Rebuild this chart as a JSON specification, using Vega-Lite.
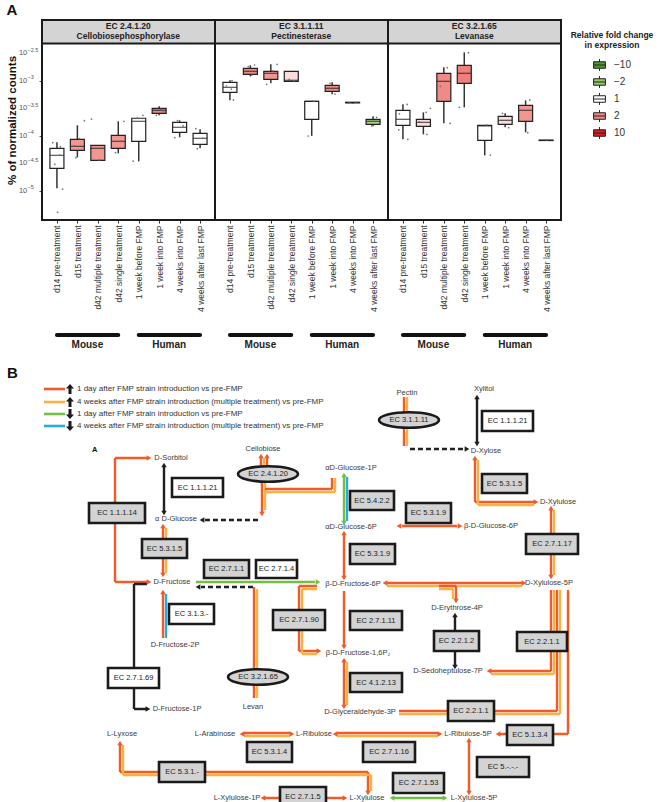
{
"$schema": "https://vega.github.io/schema/vega-lite/v6.json",
"padding": {"left": 6, "top": 3, "right": 0, "bottom": 0},
"background": "white",
"config": {
  "font": "Liberation Sans",
  "view": {"stroke": "#1a1a1a", "strokeWidth": 2},
  "axis": {"labelFont": "Liberation Sans", "titleFont": "Liberation Sans"},
  "legend": {"labelFont": "Liberation Sans", "titleFont": "Liberation Sans"},
  "title": {"font": "Liberation Sans"}
},
"spacing": 10,
"resolve": {
  "scale": {"color": "independent", "fill": "independent", "x": "independent", "y": "independent", "shape": "independent"},
  "legend": {"fill": "independent", "color": "independent", "shape": "independent"}
},
"datasets": {
  "A": [
    {"type": "hdr", "ec": "EC 2.4.1.20", "label": "EC 2.4.1.20\nCellobiosephosphorylase"},
    {"type": "hdr", "ec": "EC 3.1.1.11", "label": "EC 3.1.1.11\nPectinesterase"},
    {"type": "hdr", "ec": "EC 3.2.1.65", "label": "EC 3.2.1.65\nLevanase"},
    {"type": "ylab", "ec": "EC 2.4.1.20", "v": -5, "base": "10", "exp": "−5"},
    {"type": "ylab", "ec": "EC 2.4.1.20", "v": -4.5, "base": "10", "exp": "−4.5"},
    {"type": "ylab", "ec": "EC 2.4.1.20", "v": -4, "base": "10", "exp": "−4"},
    {"type": "ylab", "ec": "EC 2.4.1.20", "v": -3.5, "base": "10", "exp": "−3.5"},
    {"type": "ylab", "ec": "EC 2.4.1.20", "v": -3, "base": "10", "exp": "−3"},
    {"type": "ylab", "ec": "EC 2.4.1.20", "v": -2.5, "base": "10", "exp": "−2.5"},
    {"type": "grp", "ec": "EC 2.4.1.20", "c1": "d14 pre-treatment", "c2": "d42 single treatment", "cm": "d15 treatment", "label": "Mouse"},
    {"type": "grp", "ec": "EC 2.4.1.20", "c1": "1 week before FMP", "c2": "4 weeks after last FMP", "cm": "1 week into FMP", "label": "Human"},
    {"type": "grp", "ec": "EC 3.1.1.11", "c1": "d14 pre-treatment", "c2": "d42 single treatment", "cm": "d15 treatment", "label": "Mouse"},
    {"type": "grp", "ec": "EC 3.1.1.11", "c1": "1 week before FMP", "c2": "4 weeks after last FMP", "cm": "1 week into FMP", "label": "Human"},
    {"type": "grp", "ec": "EC 3.2.1.65", "c1": "d14 pre-treatment", "c2": "d42 single treatment", "cm": "d15 treatment", "label": "Mouse"},
    {"type": "grp", "ec": "EC 3.2.1.65", "c1": "1 week before FMP", "c2": "4 weeks after last FMP", "cm": "1 week into FMP", "label": "Human"},

    {"type": "box", "ec": "EC 2.4.1.20", "cat": "d14 pre-treatment", "lo": -4.955, "q1": -4.591, "md": -4.355, "q3": -4.227, "hi": -4.118, "fold": 1},
    {"type": "box", "ec": "EC 2.4.1.20", "cat": "d15 treatment", "lo": -4.391, "q1": -4.264, "md": -4.191, "q3": -4.064, "hi": -3.809, "fold": 1.9},
    {"type": "box", "ec": "EC 2.4.1.20", "cat": "d42 multiple treatment", "lo": -4.445, "q1": -4.445, "md": -4.227, "q3": -4.173, "hi": -4.173, "fold": 1.9},
    {"type": "box", "ec": "EC 2.4.1.20", "cat": "d42 single treatment", "lo": -4.318, "q1": -4.227, "md": -4.1, "q3": -3.99, "hi": -3.736, "fold": 1.9},
    {"type": "box", "ec": "EC 2.4.1.20", "cat": "1 week before FMP", "lo": -4.464, "q1": -4.1, "md": -3.736, "q3": -3.68, "hi": -3.68, "fold": 1},
    {"type": "box", "ec": "EC 2.4.1.20", "cat": "1 week into FMP", "lo": -3.627, "q1": -3.59, "md": -3.536, "q3": -3.5, "hi": -3.464, "fold": 2.4},
    {"type": "box", "ec": "EC 2.4.1.20", "cat": "4 weeks into FMP", "lo": -4.027, "q1": -3.936, "md": -3.845, "q3": -3.755, "hi": -3.718, "fold": 1},
    {"type": "box", "ec": "EC 2.4.1.20", "cat": "4 weeks after last FMP", "lo": -4.227, "q1": -4.155, "md": -4.045, "q3": -3.955, "hi": -3.882, "fold": 1},

    {"type": "box", "ec": "EC 3.1.1.11", "cat": "d14 pre-treatment", "lo": -3.355, "q1": -3.209, "md": -3.118, "q3": -3.027, "hi": -2.99, "fold": 1},
    {"type": "box", "ec": "EC 3.1.1.11", "cat": "d15 treatment", "lo": -2.918, "q1": -2.882, "md": -2.827, "q3": -2.773, "hi": -2.718, "fold": 2.2},
    {"type": "box", "ec": "EC 3.1.1.11", "cat": "d42 multiple treatment", "lo": -3.045, "q1": -2.973, "md": -2.864, "q3": -2.827, "hi": -2.7, "fold": 1.9},
    {"type": "box", "ec": "EC 3.1.1.11", "cat": "d42 single treatment", "lo": -3.009, "q1": -3.009, "md": -2.99, "q3": -2.827, "hi": -2.827, "fold": 1.3},
    {"type": "box", "ec": "EC 3.1.1.11", "cat": "1 week before FMP", "lo": -4.0, "q1": -3.7, "md": -3.373, "q3": -3.373, "hi": -3.373, "fold": 1},
    {"type": "box", "ec": "EC 3.1.1.11", "cat": "1 week into FMP", "lo": -3.245, "q1": -3.19, "md": -3.136, "q3": -3.082, "hi": -3.027, "fold": 2},
    {"type": "box", "ec": "EC 3.1.1.11", "cat": "4 weeks into FMP", "lo": -3.41, "q1": -3.4, "md": -3.395, "q3": -3.39, "hi": -3.385, "fold": 1},
    {"type": "box", "ec": "EC 3.1.1.11", "cat": "4 weeks after last FMP", "lo": -3.827, "q1": -3.79, "md": -3.736, "q3": -3.7, "hi": -3.645, "fold": -1.5},

    {"type": "box", "ec": "EC 3.2.1.65", "cat": "d14 pre-treatment", "lo": -4.064, "q1": -3.809, "md": -3.7, "q3": -3.536, "hi": -3.427, "fold": 1},
    {"type": "box", "ec": "EC 3.2.1.65", "cat": "d15 treatment", "lo": -3.973, "q1": -3.827, "md": -3.755, "q3": -3.7, "hi": -3.573, "fold": 1.3},
    {"type": "box", "ec": "EC 3.2.1.65", "cat": "d42 multiple treatment", "lo": -3.773, "q1": -3.373, "md": -3.009, "q3": -2.864, "hi": -2.755, "fold": 2},
    {"type": "box", "ec": "EC 3.2.1.65", "cat": "d42 single treatment", "lo": -3.482, "q1": -3.045, "md": -2.864, "q3": -2.718, "hi": -2.482, "fold": 2.8},
    {"type": "box", "ec": "EC 3.2.1.65", "cat": "1 week before FMP", "lo": -4.355, "q1": -4.082, "md": -3.82, "q3": -3.809, "hi": -3.809, "fold": 1},
    {"type": "box", "ec": "EC 3.2.1.65", "cat": "1 week into FMP", "lo": -3.845, "q1": -3.79, "md": -3.718, "q3": -3.645, "hi": -3.59, "fold": 1.3},
    {"type": "box", "ec": "EC 3.2.1.65", "cat": "4 weeks into FMP", "lo": -3.936, "q1": -3.736, "md": -3.536, "q3": -3.445, "hi": -3.355, "fold": 1.9},
    {"type": "box", "ec": "EC 3.2.1.65", "cat": "4 weeks after last FMP", "lo": -4.09, "q1": -4.085, "md": -4.082, "q3": -4.078, "hi": -4.075, "fold": 1},

    {"type": "pt", "ec": "EC 2.4.1.20", "cat": "d14 pre-treatment", "v": -4.124, "j": -0.6},
    {"type": "pt", "ec": "EC 2.4.1.20", "cat": "d14 pre-treatment", "v": -4.349, "j": 0.4},
    {"type": "pt", "ec": "EC 2.4.1.20", "cat": "d14 pre-treatment", "v": -4.967, "j": 0.8},
    {"type": "pt", "ec": "EC 2.4.1.20", "cat": "d14 pre-treatment", "v": -5.39, "j": 0.1},
    {"type": "pt", "ec": "EC 2.4.1.20", "cat": "d14 pre-treatment", "v": -4.518, "j": -0.3},
    {"type": "pt", "ec": "EC 2.4.1.20", "cat": "d14 pre-treatment", "v": -4.2, "j": 0.5},
    {"type": "pt", "ec": "EC 2.4.1.20", "cat": "d15 treatment", "v": -4.052, "j": 0.3},
    {"type": "pt", "ec": "EC 2.4.1.20", "cat": "d15 treatment", "v": -4.185, "j": -0.5},
    {"type": "pt", "ec": "EC 2.4.1.20", "cat": "d15 treatment", "v": -4.397, "j": -0.2},
    {"type": "pt", "ec": "EC 2.4.1.20", "cat": "d15 treatment", "v": -3.724, "j": 1.0},
    {"type": "pt", "ec": "EC 2.4.1.20", "cat": "d42 multiple treatment", "v": -3.694, "j": -0.9},
    {"type": "pt", "ec": "EC 2.4.1.20", "cat": "d42 multiple treatment", "v": -4.44, "j": 0.2},
    {"type": "pt", "ec": "EC 2.4.1.20", "cat": "d42 multiple treatment", "v": -4.227, "j": 0.5},
    {"type": "pt", "ec": "EC 2.4.1.20", "cat": "d42 single treatment", "v": -3.736, "j": 0.8},
    {"type": "pt", "ec": "EC 2.4.1.20", "cat": "d42 single treatment", "v": -4.306, "j": -0.4},
    {"type": "pt", "ec": "EC 2.4.1.20", "cat": "d42 single treatment", "v": -4.1, "j": 0.3},
    {"type": "pt", "ec": "EC 2.4.1.20", "cat": "1 week before FMP", "v": -3.627, "j": 0.6},
    {"type": "pt", "ec": "EC 2.4.1.20", "cat": "1 week before FMP", "v": -4.458, "j": -0.8},
    {"type": "pt", "ec": "EC 2.4.1.20", "cat": "1 week before FMP", "v": -3.68, "j": -0.2},
    {"type": "pt", "ec": "EC 2.4.1.20", "cat": "1 week into FMP", "v": -3.52, "j": 0.3},
    {"type": "pt", "ec": "EC 2.4.1.20", "cat": "1 week into FMP", "v": -3.627, "j": -0.4},
    {"type": "pt", "ec": "EC 2.4.1.20", "cat": "1 week into FMP", "v": -3.545, "j": 0.6},
    {"type": "pt", "ec": "EC 2.4.1.20", "cat": "4 weeks into FMP", "v": -3.724, "j": -0.3},
    {"type": "pt", "ec": "EC 2.4.1.20", "cat": "4 weeks into FMP", "v": -4.033, "j": -0.7},
    {"type": "pt", "ec": "EC 2.4.1.20", "cat": "4 weeks into FMP", "v": -3.82, "j": 0.5},
    {"type": "pt", "ec": "EC 2.4.1.20", "cat": "4 weeks after last FMP", "v": -3.87, "j": -0.6},
    {"type": "pt", "ec": "EC 2.4.1.20", "cat": "4 weeks after last FMP", "v": -4.233, "j": -0.4},
    {"type": "pt", "ec": "EC 2.4.1.20", "cat": "4 weeks after last FMP", "v": -4.045, "j": 0.4},

    {"type": "pt", "ec": "EC 3.1.1.11", "cat": "d14 pre-treatment", "v": -2.997, "j": 0.3},
    {"type": "pt", "ec": "EC 3.1.1.11", "cat": "d14 pre-treatment", "v": -3.348, "j": 0.5},
    {"type": "pt", "ec": "EC 3.1.1.11", "cat": "d14 pre-treatment", "v": -3.094, "j": -0.5},
    {"type": "pt", "ec": "EC 3.1.1.11", "cat": "d14 pre-treatment", "v": -3.15, "j": 0.2},
    {"type": "pt", "ec": "EC 3.1.1.11", "cat": "d15 treatment", "v": -2.712, "j": 0.6},
    {"type": "pt", "ec": "EC 3.1.1.11", "cat": "d15 treatment", "v": -2.74, "j": -0.3},
    {"type": "pt", "ec": "EC 3.1.1.11", "cat": "d15 treatment", "v": -2.894, "j": 0.2},
    {"type": "pt", "ec": "EC 3.1.1.11", "cat": "d42 multiple treatment", "v": -2.7, "j": 0.9},
    {"type": "pt", "ec": "EC 3.1.1.11", "cat": "d42 multiple treatment", "v": -3.064, "j": -0.6},
    {"type": "pt", "ec": "EC 3.1.1.11", "cat": "d42 multiple treatment", "v": -2.82, "j": 0.3},
    {"type": "pt", "ec": "EC 3.1.1.11", "cat": "d42 single treatment", "v": -2.973, "j": -0.3},
    {"type": "pt", "ec": "EC 3.1.1.11", "cat": "d42 single treatment", "v": -3.01, "j": 0.4},
    {"type": "pt", "ec": "EC 3.1.1.11", "cat": "1 week before FMP", "v": -4.003, "j": -0.5},
    {"type": "pt", "ec": "EC 3.1.1.11", "cat": "1 week before FMP", "v": -3.373, "j": 0.3},
    {"type": "pt", "ec": "EC 3.1.1.11", "cat": "1 week into FMP", "v": -3.045, "j": -0.3},
    {"type": "pt", "ec": "EC 3.1.1.11", "cat": "1 week into FMP", "v": -3.24, "j": 0.4},
    {"type": "pt", "ec": "EC 3.1.1.11", "cat": "4 weeks into FMP", "v": -3.4, "j": -0.5},
    {"type": "pt", "ec": "EC 3.1.1.11", "cat": "4 weeks into FMP", "v": -3.39, "j": 0.5},
    {"type": "pt", "ec": "EC 3.1.1.11", "cat": "4 weeks after last FMP", "v": -3.664, "j": 0.5},
    {"type": "pt", "ec": "EC 3.1.1.11", "cat": "4 weeks after last FMP", "v": -3.821, "j": -0.2},

    {"type": "pt", "ec": "EC 3.2.1.65", "cat": "d14 pre-treatment", "v": -3.43, "j": 0.6},
    {"type": "pt", "ec": "EC 3.2.1.65", "cat": "d14 pre-treatment", "v": -4.064, "j": 0.7},
    {"type": "pt", "ec": "EC 3.2.1.65", "cat": "d14 pre-treatment", "v": -3.6, "j": -0.5},
    {"type": "pt", "ec": "EC 3.2.1.65", "cat": "d14 pre-treatment", "v": -3.89, "j": -0.6},
    {"type": "pt", "ec": "EC 3.2.1.65", "cat": "d15 treatment", "v": -3.573, "j": 0.4},
    {"type": "pt", "ec": "EC 3.2.1.65", "cat": "d15 treatment", "v": -3.973, "j": 0.5},
    {"type": "pt", "ec": "EC 3.2.1.65", "cat": "d15 treatment", "v": -3.745, "j": -0.6},
    {"type": "pt", "ec": "EC 3.2.1.65", "cat": "d15 treatment", "v": -3.5, "j": 1.0},
    {"type": "pt", "ec": "EC 3.2.1.65", "cat": "d42 multiple treatment", "v": -2.76, "j": 0.5},
    {"type": "pt", "ec": "EC 3.2.1.65", "cat": "d42 multiple treatment", "v": -3.775, "j": 0.9},
    {"type": "pt", "ec": "EC 3.2.1.65", "cat": "d42 multiple treatment", "v": -3.1, "j": -0.5},
    {"type": "pt", "ec": "EC 3.2.1.65", "cat": "d42 single treatment", "v": -2.488, "j": 0.6},
    {"type": "pt", "ec": "EC 3.2.1.65", "cat": "d42 single treatment", "v": -3.482, "j": -0.7},
    {"type": "pt", "ec": "EC 3.2.1.65", "cat": "d42 single treatment", "v": -2.864, "j": 0.2},
    {"type": "pt", "ec": "EC 3.2.1.65", "cat": "1 week before FMP", "v": -3.803, "j": 0.3},
    {"type": "pt", "ec": "EC 3.2.1.65", "cat": "1 week before FMP", "v": -4.349, "j": 0.8},
    {"type": "pt", "ec": "EC 3.2.1.65", "cat": "1 week into FMP", "v": -3.59, "j": -0.4},
    {"type": "pt", "ec": "EC 3.2.1.65", "cat": "1 week into FMP", "v": -3.852, "j": 0.5},
    {"type": "pt", "ec": "EC 3.2.1.65", "cat": "4 weeks into FMP", "v": -3.348, "j": 0.6},
    {"type": "pt", "ec": "EC 3.2.1.65", "cat": "4 weeks into FMP", "v": -3.942, "j": 0.3},
    {"type": "pt", "ec": "EC 3.2.1.65", "cat": "4 weeks after last FMP", "v": -4.076, "j": 0.1}
  ],
  "edges": [
    {"id": "e1", "o": 1, "x": 146, "y": 452, "c": "R"}, {"id": "e1", "o": 2, "x": 114, "y": 452, "c": "R"}, {"id": "e1", "o": 3, "x": 114, "y": 576, "c": "R"}, {"id": "e1", "o": 4, "x": 146, "y": 576, "c": "R"},
    {"id": "e2", "o": 1, "x": 163, "y": 461, "c": "K"}, {"id": "e2", "o": 2, "x": 163, "y": 505, "c": "K"},
    {"id": "e3", "o": 1, "x": 257, "y": 514, "c": "D"}, {"id": "e3", "o": 2, "x": 204, "y": 514, "c": "D"},
    {"id": "e4", "o": 1, "x": 162, "y": 522, "c": "R"}, {"id": "e4", "o": 2, "x": 162, "y": 567, "c": "R"},
    {"id": "e4o", "o": 1, "x": 165, "y": 522, "c": "O"}, {"id": "e4o", "o": 2, "x": 165, "y": 567, "c": "O"},
    {"id": "e5", "o": 1, "x": 260, "y": 461, "c": "R"}, {"id": "e5", "o": 2, "x": 260, "y": 452, "c": "R"},
    {"id": "e5b", "o": 1, "x": 266, "y": 461, "c": "R"}, {"id": "e5b", "o": 2, "x": 266, "y": 452, "c": "R"},
    {"id": "e5o", "o": 1, "x": 263, "y": 461, "c": "O"}, {"id": "e5o", "o": 2, "x": 263, "y": 452, "c": "O"},
    {"id": "e6", "o": 1, "x": 261, "y": 476, "c": "R"}, {"id": "e6", "o": 2, "x": 261, "y": 506, "c": "R"},
    {"id": "e6o", "o": 1, "x": 264, "y": 476, "c": "O"}, {"id": "e6o", "o": 2, "x": 264, "y": 504, "c": "O"},
    {"id": "e7", "o": 1, "x": 264, "y": 483, "c": "R"}, {"id": "e7", "o": 2, "x": 331, "y": 483, "c": "R"}, {"id": "e7", "o": 3, "x": 331, "y": 472, "c": "R"},
    {"id": "e7o", "o": 1, "x": 264, "y": 486, "c": "O"}, {"id": "e7o", "o": 2, "x": 334, "y": 486, "c": "O"}, {"id": "e7o", "o": 3, "x": 334, "y": 472, "c": "O"},
    {"id": "e8", "o": 1, "x": 343, "y": 471, "c": "G"}, {"id": "e8", "o": 2, "x": 343, "y": 515, "c": "G"},
    {"id": "e8b", "o": 1, "x": 346, "y": 471, "c": "Bl"}, {"id": "e8b", "o": 2, "x": 346, "y": 515, "c": "Bl"},
    {"id": "e9", "o": 1, "x": 401, "y": 520, "c": "R"}, {"id": "e9", "o": 2, "x": 456, "y": 520, "c": "R"},
    {"id": "e10", "o": 1, "x": 343, "y": 529, "c": "R"}, {"id": "e10", "o": 2, "x": 343, "y": 570, "c": "R"},
    {"id": "e11", "o": 1, "x": 195, "y": 576, "c": "G"}, {"id": "e11", "o": 2, "x": 314, "y": 576, "c": "G"},
    {"id": "e12", "o": 1, "x": 252, "y": 581, "c": "D"}, {"id": "e12", "o": 2, "x": 200, "y": 581, "c": "D"},
    {"id": "e13", "o": 1, "x": 146, "y": 578, "c": "K"}, {"id": "e13", "o": 2, "x": 133, "y": 578, "c": "K"}, {"id": "e13", "o": 3, "x": 133, "y": 703, "c": "K"}, {"id": "e13", "o": 4, "x": 145, "y": 703, "c": "K"},
    {"id": "e14", "o": 1, "x": 162, "y": 588, "c": "R"}, {"id": "e14", "o": 2, "x": 162, "y": 632, "c": "R"},
    {"id": "e14b", "o": 1, "x": 165, "y": 588, "c": "Bl"}, {"id": "e14b", "o": 2, "x": 165, "y": 632, "c": "Bl"},
    {"id": "e15", "o": 1, "x": 253, "y": 692, "c": "R"}, {"id": "e15", "o": 2, "x": 253, "y": 581, "c": "R"},
    {"id": "e15o", "o": 1, "x": 256, "y": 692, "c": "O"}, {"id": "e15o", "o": 2, "x": 256, "y": 583, "c": "O"},
    {"id": "e16", "o": 1, "x": 316, "y": 580, "c": "R"}, {"id": "e16", "o": 2, "x": 298, "y": 580, "c": "R"}, {"id": "e16", "o": 3, "x": 298, "y": 645, "c": "R"}, {"id": "e16", "o": 4, "x": 316, "y": 645, "c": "R"},
    {"id": "e16o", "o": 1, "x": 316, "y": 583, "c": "O"}, {"id": "e16o", "o": 2, "x": 301, "y": 583, "c": "O"}, {"id": "e16o", "o": 3, "x": 301, "y": 648, "c": "O"}, {"id": "e16o", "o": 4, "x": 316, "y": 648, "c": "O"},
    {"id": "e17", "o": 1, "x": 343, "y": 585, "c": "R"}, {"id": "e17", "o": 2, "x": 343, "y": 639, "c": "R"},
    {"id": "e18", "o": 1, "x": 343, "y": 656, "c": "R"}, {"id": "e18", "o": 2, "x": 343, "y": 699, "c": "R"},
    {"id": "e18o", "o": 1, "x": 346, "y": 656, "c": "O"}, {"id": "e18o", "o": 2, "x": 346, "y": 699, "c": "O"},
    {"id": "e19", "o": 1, "x": 386, "y": 577, "c": "R"}, {"id": "e19", "o": 2, "x": 521, "y": 577, "c": "R"},
    {"id": "e19o", "o": 1, "x": 386, "y": 580, "c": "O"}, {"id": "e19o", "o": 2, "x": 521, "y": 580, "c": "O"},
    {"id": "e20", "o": 1, "x": 438, "y": 580, "c": "R"}, {"id": "e20", "o": 2, "x": 455, "y": 580, "c": "R"}, {"id": "e20", "o": 3, "x": 455, "y": 593, "c": "R"},
    {"id": "e20o", "o": 1, "x": 438, "y": 583, "c": "O"}, {"id": "e20o", "o": 2, "x": 452, "y": 583, "c": "O"}, {"id": "e20o", "o": 3, "x": 452, "y": 593, "c": "O"},
    {"id": "e21", "o": 1, "x": 454, "y": 611, "c": "K"}, {"id": "e21", "o": 2, "x": 454, "y": 659, "c": "K"},
    {"id": "e22", "o": 1, "x": 550, "y": 584, "c": "R"}, {"id": "e22", "o": 2, "x": 550, "y": 665, "c": "R"}, {"id": "e22", "o": 3, "x": 490, "y": 665, "c": "R"},
    {"id": "e22o", "o": 1, "x": 553, "y": 584, "c": "O"}, {"id": "e22o", "o": 2, "x": 553, "y": 668, "c": "O"}, {"id": "e22o", "o": 3, "x": 490, "y": 668, "c": "O"},
    {"id": "e23", "o": 1, "x": 556, "y": 584, "c": "R"}, {"id": "e23", "o": 2, "x": 556, "y": 705, "c": "R"}, {"id": "e23", "o": 3, "x": 398, "y": 705, "c": "R"},
    {"id": "e23o", "o": 1, "x": 559, "y": 584, "c": "O"}, {"id": "e23o", "o": 2, "x": 559, "y": 708, "c": "O"}, {"id": "e23o", "o": 3, "x": 398, "y": 708, "c": "O"},
    {"id": "e24", "o": 1, "x": 567, "y": 584, "c": "R"}, {"id": "e24", "o": 2, "x": 567, "y": 728, "c": "R"}, {"id": "e24", "o": 3, "x": 499, "y": 728, "c": "R"},
    {"id": "e25", "o": 1, "x": 550, "y": 504, "c": "R"}, {"id": "e25", "o": 2, "x": 550, "y": 569, "c": "R"},
    {"id": "e25o", "o": 1, "x": 553, "y": 504, "c": "O"}, {"id": "e25o", "o": 2, "x": 553, "y": 569, "c": "O"},
    {"id": "e26", "o": 1, "x": 474, "y": 454, "c": "R"}, {"id": "e26", "o": 2, "x": 474, "y": 496, "c": "R"}, {"id": "e26", "o": 3, "x": 533, "y": 496, "c": "R"},
    {"id": "e26o", "o": 1, "x": 477, "y": 454, "c": "O"}, {"id": "e26o", "o": 2, "x": 477, "y": 499, "c": "O"}, {"id": "e26o", "o": 3, "x": 533, "y": 499, "c": "O"},
    {"id": "e27", "o": 1, "x": 403, "y": 391, "c": "R"}, {"id": "e27", "o": 2, "x": 403, "y": 440, "c": "R"},
    {"id": "e27o", "o": 1, "x": 406, "y": 391, "c": "O"}, {"id": "e27o", "o": 2, "x": 406, "y": 440, "c": "O"},
    {"id": "e28", "o": 1, "x": 409, "y": 443, "c": "D"}, {"id": "e28", "o": 2, "x": 463, "y": 443, "c": "D"},
    {"id": "e29", "o": 1, "x": 476, "y": 393, "c": "K"}, {"id": "e29", "o": 2, "x": 476, "y": 436, "c": "K"},
    {"id": "e30", "o": 1, "x": 243, "y": 727, "c": "R"}, {"id": "e30", "o": 2, "x": 289, "y": 727, "c": "R"},
    {"id": "e30o", "o": 1, "x": 243, "y": 730, "c": "O"}, {"id": "e30o", "o": 2, "x": 289, "y": 730, "c": "O"},
    {"id": "e31", "o": 1, "x": 336, "y": 727, "c": "R"}, {"id": "e31", "o": 2, "x": 437, "y": 727, "c": "R"},
    {"id": "e31o", "o": 1, "x": 336, "y": 730, "c": "O"}, {"id": "e31o", "o": 2, "x": 437, "y": 730, "c": "O"},
    {"id": "e32", "o": 1, "x": 468, "y": 736, "c": "R"}, {"id": "e32", "o": 2, "x": 468, "y": 785, "c": "R"},
    {"id": "e33", "o": 1, "x": 393, "y": 792, "c": "G"}, {"id": "e33", "o": 2, "x": 442, "y": 792, "c": "G"},
    {"id": "e34", "o": 1, "x": 264, "y": 792, "c": "R"}, {"id": "e34", "o": 2, "x": 342, "y": 792, "c": "R"},
    {"id": "e35", "o": 1, "x": 367, "y": 785, "c": "R"}, {"id": "e35", "o": 2, "x": 367, "y": 766, "c": "R"}, {"id": "e35", "o": 3, "x": 119, "y": 766, "c": "R"}, {"id": "e35", "o": 4, "x": 119, "y": 739, "c": "R"},
    {"id": "e35o", "o": 1, "x": 370, "y": 785, "c": "O"}, {"id": "e35o", "o": 2, "x": 370, "y": 769, "c": "O"}, {"id": "e35o", "o": 3, "x": 122, "y": 769, "c": "O"}, {"id": "e35o", "o": 4, "x": 122, "y": 739, "c": "O"}
  ],
  "arrows": [
    {"x": 148, "y": 452, "d": "right", "c": "R"}, {"x": 148, "y": 576, "d": "right", "c": "R"},
    {"x": 163, "y": 459, "d": "up", "c": "K"}, {"x": 163, "y": 507, "d": "down", "c": "K"},
    {"x": 201, "y": 514, "d": "left", "c": "K"},
    {"x": 162, "y": 520, "d": "up", "c": "R"}, {"x": 162, "y": 569, "d": "down", "c": "R"},
    {"x": 260, "y": 450, "d": "up", "c": "R"}, {"x": 266, "y": 450, "d": "up", "c": "R"},
    {"x": 261, "y": 508, "d": "down", "c": "R"},
    {"x": 343, "y": 469, "d": "up", "c": "G"}, {"x": 343, "y": 517, "d": "down", "c": "G"},
    {"x": 398, "y": 520, "d": "left", "c": "R"}, {"x": 459, "y": 520, "d": "right", "c": "R"},
    {"x": 343, "y": 527, "d": "up", "c": "R"}, {"x": 343, "y": 572, "d": "down", "c": "R"},
    {"x": 317, "y": 576, "d": "right", "c": "G"},
    {"x": 197, "y": 581, "d": "left", "c": "K"},
    {"x": 147, "y": 703, "d": "right", "c": "K"},
    {"x": 162, "y": 586, "d": "up", "c": "R"},
    {"x": 318, "y": 645, "d": "right", "c": "R"},
    {"x": 343, "y": 641, "d": "down", "c": "R"},
    {"x": 343, "y": 654, "d": "up", "c": "R"}, {"x": 343, "y": 701, "d": "down", "c": "R"},
    {"x": 384, "y": 577, "d": "left", "c": "R"}, {"x": 523, "y": 577, "d": "right", "c": "R"},
    {"x": 455, "y": 595, "d": "down", "c": "R"},
    {"x": 454, "y": 609, "d": "up", "c": "K"}, {"x": 454, "y": 661, "d": "down", "c": "K"},
    {"x": 488, "y": 665, "d": "left", "c": "R"},
    {"x": 497, "y": 728, "d": "left", "c": "R"},
    {"x": 550, "y": 502, "d": "up", "c": "R"}, {"x": 550, "y": 571, "d": "down", "c": "R"},
    {"x": 474, "y": 452, "d": "up", "c": "R"}, {"x": 535, "y": 496, "d": "right", "c": "R"},
    {"x": 466, "y": 443, "d": "right", "c": "K"},
    {"x": 476, "y": 391, "d": "up", "c": "K"}, {"x": 476, "y": 438, "d": "down", "c": "K"},
    {"x": 241, "y": 728, "d": "left", "c": "R"}, {"x": 291, "y": 728, "d": "right", "c": "R"},
    {"x": 334, "y": 728, "d": "left", "c": "R"}, {"x": 439, "y": 728, "d": "right", "c": "R"},
    {"x": 468, "y": 734, "d": "up", "c": "R"}, {"x": 468, "y": 787, "d": "down", "c": "R"},
    {"x": 391, "y": 792, "d": "left", "c": "G"}, {"x": 444, "y": 792, "d": "right", "c": "G"},
    {"x": 262, "y": 792, "d": "left", "c": "R"}, {"x": 344, "y": 792, "d": "right", "c": "R"},
    {"x": 119, "y": 737, "d": "up", "c": "R"}, {"x": 367, "y": 787, "d": "down", "c": "R"}
  ],
  "boxes": [
    {"t": "EC 1.1.1.14", "x1": 88, "x2": 144, "y1": 497, "y2": 517, "k": "g"},
    {"t": "EC 1.1.1.21", "x1": 171, "x2": 222, "y1": 472, "y2": 491, "k": "w"},
    {"t": "EC 5.3.1.5", "x1": 141, "x2": 186, "y1": 533, "y2": 552, "k": "g"},
    {"t": "EC 2.7.1.1", "x1": 203, "x2": 248, "y1": 554, "y2": 572, "k": "g"},
    {"t": "EC 2.7.1.4", "x1": 255, "x2": 296, "y1": 554, "y2": 572, "k": "w"},
    {"t": "EC 3.1.3.-", "x1": 168, "x2": 213, "y1": 598, "y2": 618, "k": "w"},
    {"t": "EC 2.7.1.69", "x1": 107, "x2": 158, "y1": 662, "y2": 682, "k": "w"},
    {"t": "EC 2.7.1.90", "x1": 272, "x2": 324, "y1": 604, "y2": 624, "k": "g"},
    {"t": "EC 2.7.1.11", "x1": 349, "x2": 401, "y1": 605, "y2": 624, "k": "g"},
    {"t": "EC 4.1.2.13", "x1": 349, "x2": 401, "y1": 667, "y2": 686, "k": "g"},
    {"t": "EC 2.2.1.2", "x1": 433, "x2": 478, "y1": 625, "y2": 645, "k": "g"},
    {"t": "EC 2.2.1.1", "x1": 516, "x2": 566, "y1": 626, "y2": 645, "k": "g"},
    {"t": "EC 2.2.1.1", "x1": 447, "x2": 493, "y1": 695, "y2": 715, "k": "g"},
    {"t": "EC 5.1.3.4", "x1": 506, "x2": 552, "y1": 719, "y2": 739, "k": "g"},
    {"t": "EC 5.-.-.-", "x1": 476, "x2": 528, "y1": 751, "y2": 771, "k": "g"},
    {"t": "EC 2.7.1.16", "x1": 362, "x2": 414, "y1": 736, "y2": 756, "k": "g"},
    {"t": "EC 5.3.1.4", "x1": 246, "x2": 291, "y1": 736, "y2": 756, "k": "g"},
    {"t": "EC 5.3.1.-", "x1": 158, "x2": 204, "y1": 756, "y2": 776, "k": "g"},
    {"t": "EC 2.7.1.5", "x1": 279, "x2": 325, "y1": 781, "y2": 800, "k": "g"},
    {"t": "EC 2.7.1.53", "x1": 392, "x2": 443, "y1": 767, "y2": 787, "k": "g"},
    {"t": "EC 5.4.2.2", "x1": 349, "x2": 393, "y1": 485, "y2": 504, "k": "g"},
    {"t": "EC 5.3.1.9", "x1": 405, "x2": 450, "y1": 497, "y2": 517, "k": "g"},
    {"t": "EC 5.3.1.9", "x1": 349, "x2": 394, "y1": 538, "y2": 558, "k": "g"},
    {"t": "EC 5.3.1.5", "x1": 481, "x2": 526, "y1": 468, "y2": 487, "k": "g"},
    {"t": "EC 2.7.1.17", "x1": 525, "x2": 577, "y1": 528, "y2": 548, "k": "g"},
    {"t": "EC 1.1.1.21", "x1": 481, "x2": 532, "y1": 405, "y2": 425, "k": "w"}
  ],
  "ells": [
    {"t": "EC 2.4.1.20", "x": 267, "y": 468},
    {"t": "EC 3.2.1.65", "x": 257, "y": 671},
    {"t": "EC 3.1.1.11", "x": 408, "y": 414}
  ],
  "labels": [
    {"t": "D-Sorbitol", "x": 170, "y": 452},
    {"t": "α D-Glucose", "x": 175, "y": 513},
    {"t": "D-Fructose", "x": 171, "y": 576},
    {"t": "Cellobiose", "x": 262, "y": 443},
    {"t": "αD-Glucose-1P", "x": 350, "y": 462},
    {"t": "αD-Glucose-6P", "x": 350, "y": 521},
    {"t": "β-D-Glucose-6P", "x": 490, "y": 520},
    {"t": "β-D-Fructose-6P", "x": 352, "y": 578},
    {"t": "β-D-Fructose-1,6P₂", "x": 357, "y": 647},
    {"t": "D-Fructose-2P", "x": 174, "y": 639},
    {"t": "D-Fructose-1P", "x": 176, "y": 703},
    {"t": "Levan", "x": 252, "y": 701},
    {"t": "D-Erythrose-4P", "x": 456, "y": 602},
    {"t": "D-Sedoheptulose-7P", "x": 447, "y": 665},
    {"t": "D-Glyceraldehyde-3P", "x": 359, "y": 706},
    {"t": "L-Lyxose", "x": 121, "y": 728},
    {"t": "L-Arabinose", "x": 214, "y": 728},
    {"t": "L-Ribulose", "x": 313, "y": 728},
    {"t": "L-Ribulose-5P", "x": 467, "y": 728},
    {"t": "L-Xylulose-1P", "x": 236, "y": 792},
    {"t": "L-Xylulose", "x": 366, "y": 792},
    {"t": "L-Xylulose-5P", "x": 473, "y": 792},
    {"t": "D-Xylulose-5P", "x": 548, "y": 577},
    {"t": "D-Xylulose", "x": 557, "y": 496},
    {"t": "D-Xylose", "x": 485, "y": 445},
    {"t": "Xylitol", "x": 483, "y": 383},
    {"t": "Pectin", "x": 406, "y": 387}
  ],
  "legB": [
    {"y": 383, "c": "R", "s": "bigup", "t": "1 day after FMP strain introduction vs pre-FMP"},
    {"y": 396, "c": "O", "s": "bigup", "t": "4 weeks after FMP strain introduction (multiple treatment) vs pre-FMP"},
    {"y": 408, "c": "G", "s": "bigdown", "t": "1 day after FMP strain introduction vs pre-FMP"},
    {"y": 420, "c": "Bl", "s": "bigdown", "t": "4 weeks after FMP strain introduction (multiple treatment) vs pre-FMP"}
  ]
},
"vconcat": [
  {
    "data": {"name": "A"},
    "title": {"text": "A", "anchor": "start", "fontSize": 15, "fontWeight": "bold", "offset": 0, "frame": "bounds", "color": "#111"},
    "facet": {"column": {"field": "ec", "type": "nominal", "header": {"title": null, "labels": false}}},
    "spacing": 0,
    "bounds": "flush",
    "spec": {
      "width": 173,
      "height": 200,
      "layer": [
        {
          "transform": [{"filter": "datum.type == 'hdr'"}],
          "mark": {"type": "rect", "fill": "#d4d4d4", "stroke": "#1a1a1a", "strokeWidth": 2},
          "encoding": {"x": {"value": 0}, "x2": {"value": "width"}, "y": {"datum": -2.32}, "y2": {"datum": -1.894}}
        },
        {
          "transform": [{"filter": "datum.type == 'hdr'"}],
          "mark": {"type": "text", "fontWeight": "bold", "fontSize": 8.5, "lineBreak": "\n", "lineHeight": 10, "baseline": "top", "color": "#222", "dx": 10},
          "encoding": {"x": {"datum": "d42 single treatment", "type": "nominal"}, "y": {"datum": -1.935}, "text": {"field": "label"}}
        },
        {
          "transform": [{"filter": "datum.type == 'box'"}],
          "mark": {"type": "rule", "color": "#333", "strokeWidth": 1.5},
          "encoding": {
            "x": {"field": "cat", "type": "nominal",
              "scale": {"type": "point", "padding": 0.73, "domain": ["d14 pre-treatment", "d15 treatment", "d42 multiple treatment", "d42 single treatment", "1 week before FMP", "1 week into FMP", "4 weeks into FMP", "4 weeks after last FMP"]},
              "axis": {"title": null, "labelAngle": -90, "labelFontSize": 8.5, "labelColor": "#333", "tickSize": 3, "tickColor": "#333", "domain": false, "labelPadding": 2}},
            "y": {"field": "lo", "type": "quantitative", "title": "% of normalized counts",
              "scale": {"domain": [-5.53, -1.894], "nice": false, "zero": false},
              "axis": {"values": [-5, -4.5, -4, -3.5, -3, -2.5], "labels": false, "grid": false, "domain": false, "tickSize": 3, "tickColor": "#555", "titleFontSize": 11.5, "titleFontWeight": "bold", "titleColor": "#111", "titlePadding": 21}},
            "y2": {"field": "hi"}
          }
        },
        {
          "transform": [{"filter": "datum.type == 'ylab'"}],
          "mark": {"type": "text", "fontSize": 7.5, "align": "left", "baseline": "middle", "color": "#555", "dx": -38},
          "encoding": {"x": {"datum": "d14 pre-treatment", "type": "nominal"}, "y": {"field": "v", "type": "quantitative", "title": "% of normalized counts"}, "text": {"field": "base"}}
        },
        {
          "transform": [{"filter": "datum.type == 'ylab'"}],
          "mark": {"type": "text", "fontSize": 5.5, "align": "left", "baseline": "middle", "color": "#555", "dx": -29.5, "dy": -3.5},
          "encoding": {"x": {"datum": "d14 pre-treatment", "type": "nominal"}, "y": {"field": "v", "type": "quantitative", "title": "% of normalized counts"}, "text": {"field": "exp"}}
        },
        {
          "transform": [{"filter": "datum.type == 'box'"}],
          "mark": {"type": "bar", "size": 14, "stroke": "#222", "strokeWidth": 1.2},
          "encoding": {
            "x": {"field": "cat", "type": "nominal"},
            "y": {"field": "q1", "type": "quantitative", "title": "% of normalized counts"},
            "y2": {"field": "q3"},
            "fill": {"field": "fold", "type": "quantitative",
              "scale": {"type": "linear", "domain": [-10, -2, 1, 2, 10], "range": ["#4a9e2c", "#94cb67", "#ffffff", "#f08a86", "#e5191c"], "interpolate": "rgb"},
              "legend": {"type": "symbol", "values": [-10, -2, 1, 2, 10], "title": ["", "Relative fold change", "in expression"], "titleFontSize": 8.5, "titleFontWeight": "bold", "titleColor": "#222", "titleAlign": "center", "titleAnchor": "middle", "titlePadding": 9, "labelFontSize": 10, "labelColor": "#333", "symbolType": "M-1,-0.55H1V0.55H-1Z M0,-1V-0.55 M0,0.55V1 M-1,0H1", "symbolSize": 140, "symbolStrokeColor": "#222", "symbolStrokeWidth": 1, "rowPadding": 0, "labelOffset": 8, "offset": 8, "labelExpr": "datum.value < 0 ? '−' + abs(datum.value) : datum.label"}}
          }
        },
        {
          "transform": [{"filter": "datum.type == 'box'"}],
          "mark": {"type": "tick", "color": "#222", "size": 14, "thickness": 1.3},
          "encoding": {"x": {"field": "cat", "type": "nominal"}, "y": {"field": "md", "type": "quantitative", "title": "% of normalized counts"}}
        },
        {
          "transform": [{"filter": "datum.type == 'pt'"}],
          "mark": {"type": "circle", "size": 3, "color": "#666", "opacity": 0.9},
          "encoding": {"x": {"field": "cat", "type": "nominal"}, "xOffset": {"field": "j", "type": "quantitative", "scale": {"domain": [-1, 1], "range": [-7, 7]}}, "y": {"field": "v", "type": "quantitative", "title": "% of normalized counts"}}
        },
        {
          "transform": [{"filter": "datum.type == 'grp'"}],
          "mark": {"type": "rule", "strokeWidth": 4, "color": "#111", "strokeCap": "round"},
          "encoding": {"x": {"field": "c1", "type": "nominal"}, "x2": {"field": "c2"}, "y": {"datum": -7.62}}
        },
        {
          "transform": [{"filter": "datum.type == 'grp'"}],
          "mark": {"type": "text", "fontWeight": "bold", "fontSize": 10, "dx": 10, "color": "#222"},
          "encoding": {"x": {"field": "cm", "type": "nominal"}, "y": {"datum": -7.8}, "text": {"field": "label"}}
        }
      ]
    }
  },
  {
    "width": 619,
    "height": 447,
    "view": {"stroke": null},
    "layer": [
      {
        "data": {"name": "edges"},
        "mark": {"type": "line", "strokeWidth": 2.4, "strokeJoin": "round"},
        "encoding": {
          "x": {"field": "x", "type": "quantitative", "scale": {"domain": [41, 660], "nice": false, "zero": false}, "axis": null},
          "y": {"field": "y", "type": "quantitative", "scale": {"domain": [355, 802], "nice": false, "zero": false, "reverse": true}, "axis": null},
          "detail": {"field": "id"},
          "order": {"field": "o"},
          "color": {"field": "c", "type": "nominal", "scale": {"domain": ["R", "O", "G", "Bl", "K", "D"], "range": ["#f15a29", "#fbb040", "#72bf44", "#29abe2", "#231f20", "#231f20"]}, "legend": null},
          "strokeDash": {"field": "c", "type": "nominal", "scale": {"domain": ["R", "O", "G", "Bl", "K", "D"], "range": [[1, 0], [1, 0], [1, 0], [1, 0], [1, 0], [5, 3]]}, "legend": null}
        }
      },
      {
        "data": {"name": "arrows"},
        "mark": {"type": "point", "filled": true, "size": 30, "opacity": 1},
        "encoding": {
          "x": {"field": "x", "type": "quantitative"},
          "y": {"field": "y", "type": "quantitative"},
          "shape": {"field": "d", "type": "nominal", "scale": {"domain": ["up", "down", "left", "right", "bigup", "bigdown"], "range": ["triangle-up", "triangle-down", "triangle-left", "triangle-right", "M0,-1L0.8,-0.1L0.3,-0.1L0.3,1L-0.3,1L-0.3,-0.1L-0.8,-0.1Z", "M0,1L0.8,0.1L0.3,0.1L0.3,-1L-0.3,-1L-0.3,0.1L-0.8,0.1Z"]}, "legend": null},
          "color": {"field": "c", "type": "nominal", "legend": null}
        }
      },
      {
        "data": {"name": "boxes"},
        "mark": {"type": "rect", "stroke": "#1a1a1a", "strokeWidth": 2.6},
        "encoding": {
          "x": {"field": "x1", "type": "quantitative"},
          "x2": {"field": "x2"},
          "y": {"field": "y1", "type": "quantitative"},
          "y2": {"field": "y2"},
          "fill": {"field": "k", "type": "nominal", "scale": {"domain": ["g", "w"], "range": ["#d3d3d3", "#ffffff"]}, "legend": null}
        }
      },
      {
        "data": {"name": "boxes"},
        "transform": [{"calculate": "(datum.x1 + datum.x2) / 2", "as": "cx"}, {"calculate": "(datum.y1 + datum.y2) / 2", "as": "cy"}],
        "mark": {"type": "text", "fontSize": 7.5, "color": "#222"},
        "encoding": {"x": {"field": "cx", "type": "quantitative"}, "y": {"field": "cy", "type": "quantitative"}, "text": {"field": "t"}}
      },
      {
        "data": {"name": "ells"},
        "mark": {"type": "point", "shape": "M-1,0A1,0.26,0,1,1,1,0A1,0.26,0,1,1,-1,0Z", "size": 3600, "filled": true, "fill": "#d3d3d3", "stroke": "#1a1a1a", "strokeWidth": 2.6, "opacity": 1},
        "encoding": {"x": {"field": "x", "type": "quantitative"}, "y": {"field": "y", "type": "quantitative"}}
      },
      {
        "data": {"name": "ells"},
        "mark": {"type": "text", "fontSize": 7.5, "color": "#222"},
        "encoding": {"x": {"field": "x", "type": "quantitative"}, "y": {"field": "y", "type": "quantitative"}, "text": {"field": "t"}}
      },
      {
        "data": {"name": "labels"},
        "mark": {"type": "text", "fontSize": 7.5, "color": "#3a3a3a"},
        "encoding": {"x": {"field": "x", "type": "quantitative"}, "y": {"field": "y", "type": "quantitative"}, "text": {"field": "t"}}
      },
      {
        "data": {"name": "legB"},
        "mark": {"type": "rule", "strokeWidth": 2.6},
        "encoding": {"x": {"datum": 43}, "x2": {"datum": 64}, "y": {"field": "y", "type": "quantitative"}, "color": {"field": "c", "type": "nominal", "legend": null}}
      },
      {
        "data": {"name": "legB"},
        "mark": {"type": "point", "filled": true, "size": 100, "color": "#1a1a1a", "opacity": 1},
        "encoding": {"x": {"datum": 69}, "y": {"field": "y", "type": "quantitative"}, "shape": {"field": "s", "type": "nominal", "legend": null}}
      },
      {
        "data": {"name": "legB"},
        "mark": {"type": "text", "fontSize": 8, "align": "left", "color": "#333"},
        "encoding": {"x": {"datum": 76}, "y": {"field": "y", "type": "quantitative"}, "text": {"field": "t"}}
      },
      {
        "data": {"values": [{"t": "B"}]},
        "mark": {"type": "text", "fontSize": 15, "fontWeight": "bold", "align": "left", "color": "#111"},
        "encoding": {"x": {"datum": 6}, "y": {"datum": 367}, "text": {"field": "t"}}
      },
      {
        "data": {"values": [{"t": "A"}]},
        "mark": {"type": "text", "fontSize": 7.5, "fontWeight": "bold", "align": "left", "color": "#111"},
        "encoding": {"x": {"datum": 91}, "y": {"datum": 444}, "text": {"field": "t"}}
      }
    ]
  }
]
}
